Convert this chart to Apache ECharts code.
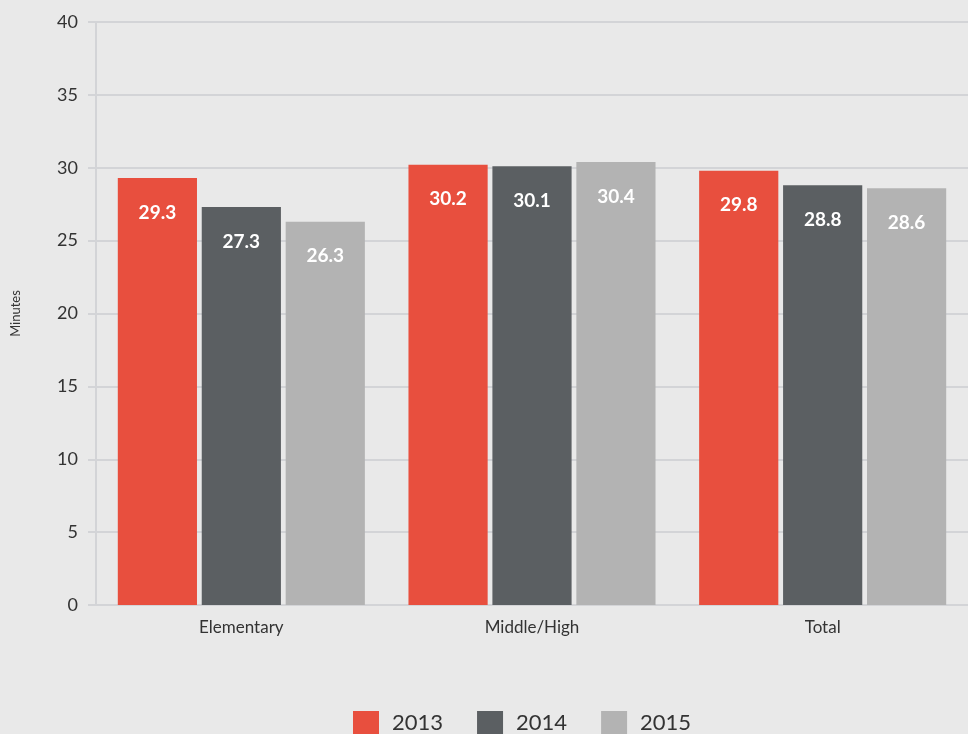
<!DOCTYPE html>
<html>
<head>
<meta charset="utf-8">
<script src="https://cdn.jsdelivr.net/npm/echarts@6/dist/echarts.min.js"></script>
<style>
  html, body { margin: 0; padding: 0; background: #e9e9e9; }
  #chart { width: 968px; height: 734px; }
</style>
</head>
<body>
<div id="chart"></div>
<script>
  // 数据
  var categories = ['Elementary', 'Middle/High', 'Total'];
  var years = ['2013', '2014', '2015'];
  var data2013 = [29.3, 30.2, 29.8];
  var data2014 = [27.3, 30.1, 28.8];
  var data2015 = [26.3, 30.4, 28.6];
  var colors = ['#e84f3e', '#5b5f62', '#b3b3b3'];

  var myChart = echarts.init(document.getElementById('chart'));

  var makeSeries = function (name, values) {
    return {
      name: name,
      type: 'bar',
      data: values,
      barGap: '6%',
      barCategoryGap: '15%',
      label: {
        show: true,
        position: 'insideTop',
        distance: 25,
        color: '#fff',
        fontFamily: 'Lato',
        fontWeight: 'bold',
        fontSize: 19,
        formatter: function (p) { return p.value.toFixed(1); }
      }
    };
  };

  var option = {
    backgroundColor: '#e9e9e9',
    color: colors,
    textStyle: { fontFamily: 'Lato' },
    legend: {
      top: 706,
      left: 348,
      itemWidth: 26,
      itemHeight: 24,
      itemGap: 34,
      icon: 'rect',
      textStyle: { color: '#333', fontSize: 22, fontFamily: 'Lato', padding: [0, 0, 0, 8] },
      data: years
    },
    grid: {
      left: 96,
      right: 0,
      top: 22,
      bottom: 129
    },
    xAxis: {
      type: 'category',
      data: categories,
      axisTick: { show: false },
      axisLine: { lineStyle: { color: '#d3d4d7', width: 2 } },
      axisLabel: { color: '#333', fontSize: 17, margin: 14 }
    },
    yAxis: {
      type: 'value',
      min: 0,
      max: 40,
      interval: 5,
      name: 'Minutes',
      nameLocation: 'middle',
      nameGap: 74,
      nameTextStyle: { color: '#333', fontSize: 13 },
      axisLine: { show: true, lineStyle: { color: '#d3d4d7', width: 2 } },
      axisTick: { show: true, length: 8, lineStyle: { color: '#d3d4d7', width: 2 } },
      axisLabel: { color: '#333', fontSize: 18, margin: 18 },
      splitLine: { lineStyle: { color: '#d3d4d7', width: 2 } }
    },
    series: [
      makeSeries(years[0], data2013),
      makeSeries(years[1], data2014),
      makeSeries(years[2], data2015)
    ]
  };

  myChart.setOption(option);
</script>
</body>
</html>
